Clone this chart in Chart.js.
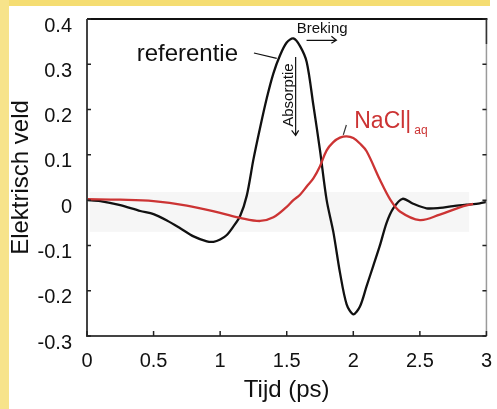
<!DOCTYPE html>
<html>
<head>
<meta charset="utf-8">
<script src="https://cdn.jsdelivr.net/npm/chart.js@4/dist/chart.umd.min.js"></script>
<style>
  html, body { margin: 0; padding: 0; background: #fff; }
  #wrap { width: 497px; height: 409px; }
</style>
</head>
<body>
<div id="wrap"><canvas id="chart" width="497" height="409"></canvas></div>
<script>
// referentie (black) and NaCl (red) pulses
const refT = [0, 0.1, 0.25, 0.4, 0.5, 0.6, 0.7, 0.8, 0.9, 0.95, 1.0, 1.05, 1.1, 1.15, 1.2, 1.25, 1.3, 1.35, 1.4, 1.45, 1.5, 1.55, 1.6, 1.65, 1.7, 1.75, 1.8, 1.85, 1.9, 1.95, 2.0, 2.05, 2.1, 2.15, 2.2, 2.25, 2.3, 2.37, 2.45, 2.55, 2.65, 2.75, 2.85, 2.95, 3.0];
const refV = [0, -0.002, -0.011, -0.024, -0.031, -0.045, -0.062, -0.08, -0.091, -0.092, -0.087, -0.077, -0.058, -0.035, 0.01, 0.09, 0.16, 0.225, 0.28, 0.32, 0.348, 0.357, 0.34, 0.305, 0.21, 0.11, 0.0, -0.07, -0.16, -0.23, -0.252, -0.235, -0.19, -0.145, -0.1, -0.05, -0.018, 0.003, -0.008, -0.018, -0.017, -0.013, -0.01, -0.007, -0.004];

const naclT = [0, 0.25, 0.5, 0.75, 1.0, 1.15, 1.3, 1.4, 1.5, 1.55, 1.6, 1.65, 1.7, 1.75, 1.8, 1.85, 1.9, 1.95, 2.0, 2.05, 2.1, 2.2, 2.28, 2.35, 2.5, 2.65, 2.8, 2.9];
const naclV = [0.002, 0.001, -0.002, -0.012, -0.028, -0.039, -0.046, -0.038, -0.015, 0.0, 0.012, 0.03, 0.048, 0.075, 0.11, 0.128, 0.138, 0.141, 0.137, 0.125, 0.108, 0.045, 0.0, -0.025, -0.044, -0.032, -0.016, -0.008];

const xTicks = [0, 0.5, 1, 1.5, 2, 2.5, 3];
const xTickLabels = ["0", "0.5", "1", "1.5", "2", "2.5", "3"];
const yTicks = [-0.3, -0.2, -0.1, 0, 0.1, 0.2, 0.3, 0.4];
const yTickLabels = ["-0.3", "-0.2", "-0.1", "0", "0.1", "0.2", "0.3", "0.4"];

const toPoints = (ts, vs) => ts.map((t, i) => ({ x: t, y: vs[i] }));
const FONT = "'Liberation Sans', Arial, Helvetica, sans-serif";
const RED = "#cc3434";

const labelFor = (ticks, labels) => (v) => {
  const i = ticks.findIndex((t) => Math.abs(t - v) < 1e-6);
  return i >= 0 ? labels[i] : "";
};

const frame = {
  id: "frame",
  beforeDraw(chart) {
    const c = chart.ctx;
    c.save();
    c.fillStyle = "#fff";
    c.fillRect(0, 0, chart.width, chart.height);
    c.fillStyle = "#f5dd72";
    c.fillRect(0, 0, 490, 6);
    c.fillStyle = "#f7e38a";
    c.fillRect(0, 0, 9, chart.height);
    // faint band behind the curves
    const x = chart.scales.x, y = chart.scales.y;
    c.fillStyle = "#f6f6f6";
    const bx = x.getPixelForValue(0.02), by = y.getPixelForValue(0.018);
    c.fillRect(bx, by, x.getPixelForValue(2.87) - bx, y.getPixelForValue(-0.07) - by);
    c.restore();
  },
  afterDraw(chart) {
    const c = chart.ctx;
    const a = chart.chartArea;
    const x = chart.scales.x, y = chart.scales.y;
    c.save();
    c.lineCap = "butt";
    // top and right borders
    c.strokeStyle = "#111";
    c.lineWidth = 2;
    c.beginPath();
    c.moveTo(a.left, a.top);
    c.lineTo(a.right + 1, a.top);
    c.stroke();
    c.strokeStyle = "#9a9a9a";
    c.lineWidth = 1.5;
    c.beginPath();
    c.moveTo(a.right, a.top);
    c.lineTo(a.right, a.bottom);
    c.stroke();
    c.strokeStyle = "#333";
    c.beginPath();
    c.moveTo(a.right, a.top);
    c.lineTo(a.right, a.top + 25);
    c.stroke();
    // left and bottom axes
    c.strokeStyle = "#444";
    c.lineWidth = 2;
    c.beginPath();
    c.moveTo(a.left, a.top);
    c.lineTo(a.left, a.bottom);
    c.lineTo(a.right, a.bottom);
    c.stroke();
    // inward ticks
    c.lineWidth = 1.5;
    c.strokeStyle = "#222";
    for (const t of yTicks) {
      const py = y.getPixelForValue(t);
      c.beginPath();
      c.moveTo(a.left, py);
      c.lineTo(a.left + 4, py);
      c.moveTo(a.right, py);
      c.lineTo(a.right - 4, py);
      c.stroke();
    }
    for (const t of xTicks) {
      const px = x.getPixelForValue(t);
      c.beginPath();
      c.moveTo(px, a.bottom);
      c.lineTo(px, a.bottom - 5);
      c.stroke();
    }

    // annotations
    c.fillStyle = "#111";
    c.textBaseline = "alphabetic";
    c.textAlign = "left";
    c.font = "24px " + FONT;
    c.fillText("referentie", x.getPixelForValue(0.373), y.getPixelForValue(0.307));
    c.strokeStyle = "#111";
    c.lineWidth = 1.2;
    c.beginPath();
    c.moveTo(x.getPixelForValue(1.254), y.getPixelForValue(0.325));
    c.lineTo(x.getPixelForValue(1.425), y.getPixelForValue(0.313));
    c.stroke();

    c.font = "15px " + FONT;
    c.fillText("Breking", x.getPixelForValue(1.575), y.getPixelForValue(0.369));
    const ax0 = x.getPixelForValue(1.649), ax1 = x.getPixelForValue(1.873), ay = y.getPixelForValue(0.353);
    c.beginPath();
    c.moveTo(ax0, ay);
    c.lineTo(ax1, ay);
    c.moveTo(ax1 - 5, ay - 4);
    c.lineTo(ax1, ay);
    c.lineTo(ax1 - 5, ay + 3);
    c.stroke();

    c.save();
    c.translate(x.getPixelForValue(1.515), y.getPixelForValue(0.232));
    c.rotate(-Math.PI / 2);
    c.textAlign = "center";
    c.textBaseline = "middle";
    c.fillText("Absorptie", 0, 0);
    c.restore();
    const vx = x.getPixelForValue(1.567), vy0 = y.getPixelForValue(0.316), vy1 = y.getPixelForValue(0.143);
    c.beginPath();
    c.moveTo(vx, vy0);
    c.lineTo(vx, vy1);
    c.moveTo(vx - 4, vy1 - 5);
    c.lineTo(vx, vy1);
    c.lineTo(vx + 3, vy1 - 5);
    c.stroke();

    c.fillStyle = RED;
    c.font = "23px " + FONT;
    const nx = x.getPixelForValue(2.007), ny = y.getPixelForValue(0.159);
    c.fillText("NaCl|", nx, ny);
    const w = c.measureText("NaCl|").width;
    c.font = "12px " + FONT;
    c.fillText("aq", nx + w + 3, y.getPixelForValue(0.147));
    c.strokeStyle = "#333";
    c.beginPath();
    c.moveTo(x.getPixelForValue(1.948), y.getPixelForValue(0.166));
    c.lineTo(x.getPixelForValue(1.925), y.getPixelForValue(0.144));
    c.stroke();
    c.restore();
  },
};

new Chart(document.getElementById("chart"), {
  type: "line",
  data: {
    datasets: [
      {
        label: "NaCl",
        data: toPoints(naclT, naclV),
        borderColor: RED,
        borderWidth: 2.3,
        pointRadius: 0,
        tension: 0.35,
        fill: false,
      },
      {
        label: "referentie",
        data: toPoints(refT, refV),
        borderColor: "#111",
        borderWidth: 2.3,
        pointRadius: 0,
        tension: 0.3,
        fill: false,
      },
    ],
  },
  options: {
    responsive: false,
    animation: false,
    layout: { padding: { top: 19, right: 8, left: 0, bottom: 0 } },
    plugins: { legend: { display: false }, tooltip: { enabled: false } },
    scales: {
      x: {
        type: "linear",
        min: 0,
        max: 3,
        afterBuildTicks: (s) => { s.ticks = xTicks.map((v) => ({ value: v })); },
        afterFit: (s) => { s.height = 73; },
        grid: { display: false },
        border: { display: false },
        ticks: {
          padding: 5,
          color: "#111",
          font: { family: FONT, size: 20 },
          maxRotation: 0,
          autoSkip: false,
          callback: labelFor(xTicks, xTickLabels),
        },
        title: {
          display: true,
          text: "Tijd (ps)",
          color: "#111",
          font: { family: FONT, size: 24 },
          padding: { top: 0, bottom: 4 },
        },
      },
      y: {
        type: "linear",
        min: -0.3,
        max: 0.4,
        afterBuildTicks: (s) => { s.ticks = yTicks.map((v) => ({ value: v })); },
        afterFit: (s) => { s.width = 87; },
        grid: { display: false },
        border: { display: false },
        ticks: {
          padding: 7,
          labelOffset: 7,
          color: "#111",
          font: { family: FONT, size: 20 },
          autoSkip: false,
          callback: labelFor(yTicks, yTickLabels),
        },
        title: {
          display: true,
          text: "Elektrisch veld",
          color: "#111",
          font: { family: FONT, size: 24 },
          padding: { top: 7, bottom: 0 },
        },
      },
    },
  },
  plugins: [frame],
});
</script>
</body>
</html>
